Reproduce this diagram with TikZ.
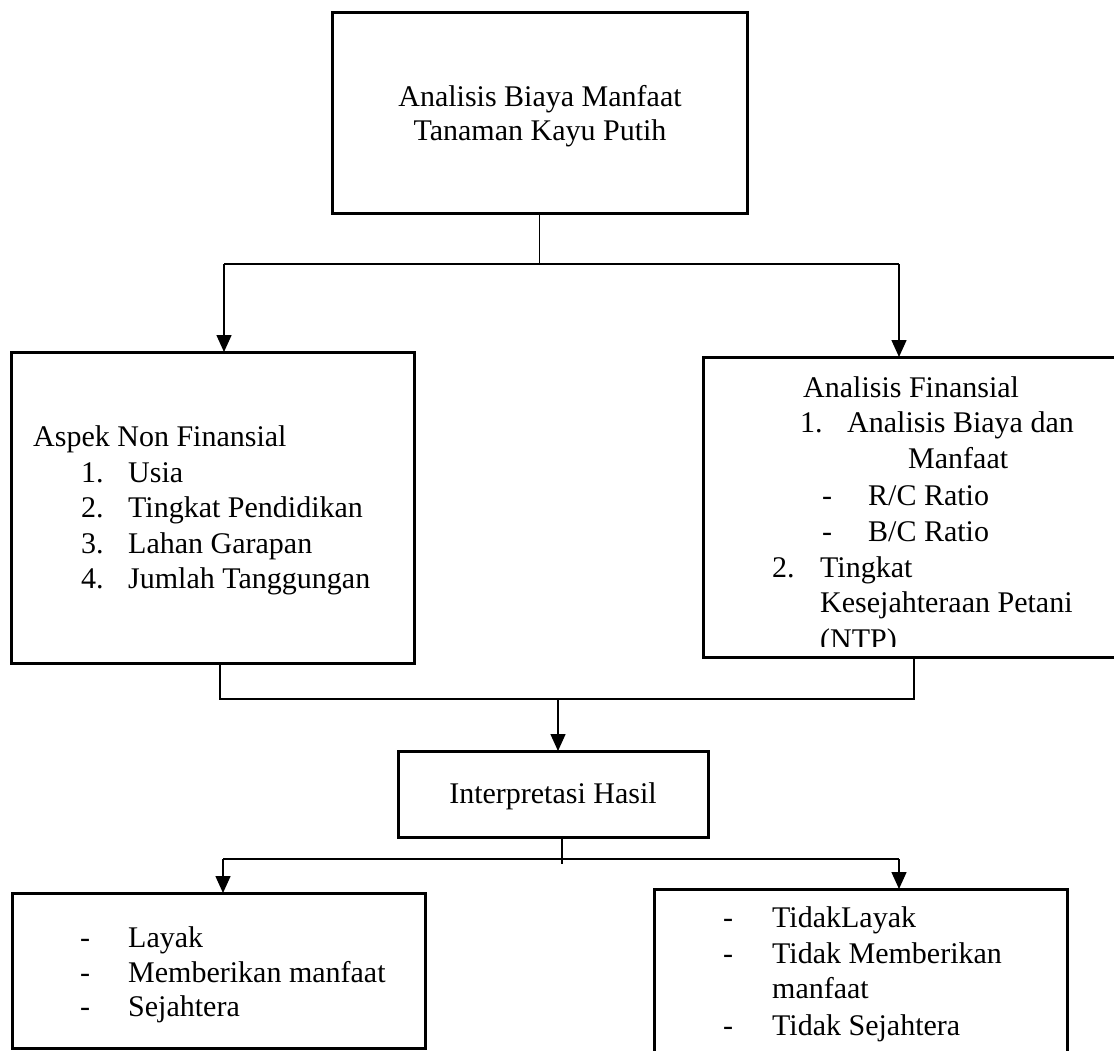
\documentclass[tikz,border=0pt]{standalone}
\usepackage{fontspec}
\setmainfont{Liberation Serif}
\usetikzlibrary{arrows.meta}
\begin{document}
\begin{tikzpicture}[x=1pt,y=-1pt,
  box/.style={draw=black,line width=3pt,rectangle,inner sep=0pt,outer sep=0pt},
  conn/.style={draw=black,line width=1.5pt},
  arr/.style={conn,-{Triangle[length=17pt,width=15pt]}},
  txt/.style={inner sep=0pt,anchor=base west,font=\fontsize{30}{34}\selectfont},
  ctxt/.style={txt,anchor=base}]
\useasboundingbox (0,0) rectangle (1114,1050);
\fill[white] (0,0) rectangle (1114,1050);

% boxes
\node[box,minimum width=415pt,minimum height=201pt] (top) at (539.5,112.5) {};
\node[box,minimum width=403pt,minimum height=311pt] (lmid) at (212.5,507.5) {};
\node[box,minimum width=427pt,minimum height=300pt] (rmid) at (916.5,507) {};
\node[box,minimum width=310pt,minimum height=86pt] (interp) at (553,794) {};
\node[box,minimum width=413pt,minimum height=155pt] (lbot) at (218.5,970.5) {};
\node[box,minimum width=413pt,minimum height=191pt] (rbot) at (860.5,984.5) {};

% top texts
\node[ctxt] (t1) at (540,106) {Analisis Biaya Manfaat};
\node[ctxt] (t2) at (540,140) {Tanaman Kayu Putih};

% left middle texts
\node[txt] (l0) at (33,446) {Aspek Non Finansial};
\node[txt] (l1n) at (81,482) {1.};
\node[txt] (l1) at (128,482) {Usia};
\node[txt] (l2n) at (81,517) {2.};
\node[txt] (l2) at (128,517) {Tingkat Pendidikan};
\node[txt] (l3n) at (81,553) {3.};
\node[txt] (l3) at (128,553) {Lahan Garapan};
\node[txt] (l4n) at (81,588) {4.};
\node[txt] (l4) at (128,588) {Jumlah Tanggungan};

% right middle texts
\node[txt] (r0) at (803,397) {Analisis Finansial};
\node[txt] (r1n) at (800,432) {1.};
\node[txt] (r1) at (847,432) {Analisis Biaya dan};
\node[txt] (r1b) at (908,468) {Manfaat};
\node[txt] (r2d) at (822,505) {-};
\node[txt] (r2) at (868,505) {R/C Ratio};
\node[txt] (r3d) at (822,541) {-};
\node[txt] (r3) at (868,541) {B/C Ratio};
\node[txt] (r4n) at (772,577) {2.};
\node[txt] (r4) at (820,577) {Tingkat};
\node[txt] (r5) at (820,612) {Kesejahteraan Petani};
\begin{scope}
  \clip (705,600) rectangle (1114,646);
  \node[txt] (r6) at (820,649) {(NTP)};
\end{scope}

% interpretation
\node[ctxt] (it) at (553,803) {Interpretasi Hasil};

% bottom left texts
\node[txt] (b1d) at (80,947) {-};
\node[txt] (b1) at (128,947) {Layak};
\node[txt] (b2d) at (80,982) {-};
\node[txt] (b2) at (128,982) {Memberikan manfaat};
\node[txt] (b3d) at (80,1016) {-};
\node[txt] (b3) at (128,1016) {Sejahtera};

% bottom right texts
\node[txt] (c1d) at (723,927) {-};
\node[txt] (c1) at (772,927) {TidakLayak};
\node[txt] (c2d) at (723,963) {-};
\node[txt] (c2) at (772,963) {Tidak Memberikan};
\node[txt] (c3) at (772,998) {manfaat};
\node[txt] (c4d) at (723,1035) {-};
\node[txt] (c4) at (772,1035) {Tidak Sejahtera};

% connectors: top
\coordinate (j0) at (539.5,264);
\coordinate (jl) at (224,264);
\coordinate (jr) at (899,264);
\draw[conn] (top.south) -- (j0);
\draw[conn] (jl) -- (jr);
\draw[arr] (jl) -- (jl |- lmid.north);
\draw[arr] (jr) -- (jr |- rmid.north);

% connectors: middle
\coordinate (m1) at (220,699);
\coordinate (m2) at (914,699);
\coordinate (mc) at (558,699);
\draw[conn] (m1 |- lmid.south) -- (m1) -- (m2) -- (m2 |- rmid.south);
\draw[arr] (mc) -- (mc |- interp.north);

% connectors: bottom
\coordinate (ic) at (562,864);
\coordinate (bl) at (223,859);
\coordinate (br) at (899,859);
\draw[conn] (ic |- interp.south) -- (ic);
\draw[conn] (bl) -- (br);
\draw[arr] (bl) -- (bl |- lbot.north);
\draw[arr] (br) -- (br |- rbot.north);
\end{tikzpicture}
\end{document}
